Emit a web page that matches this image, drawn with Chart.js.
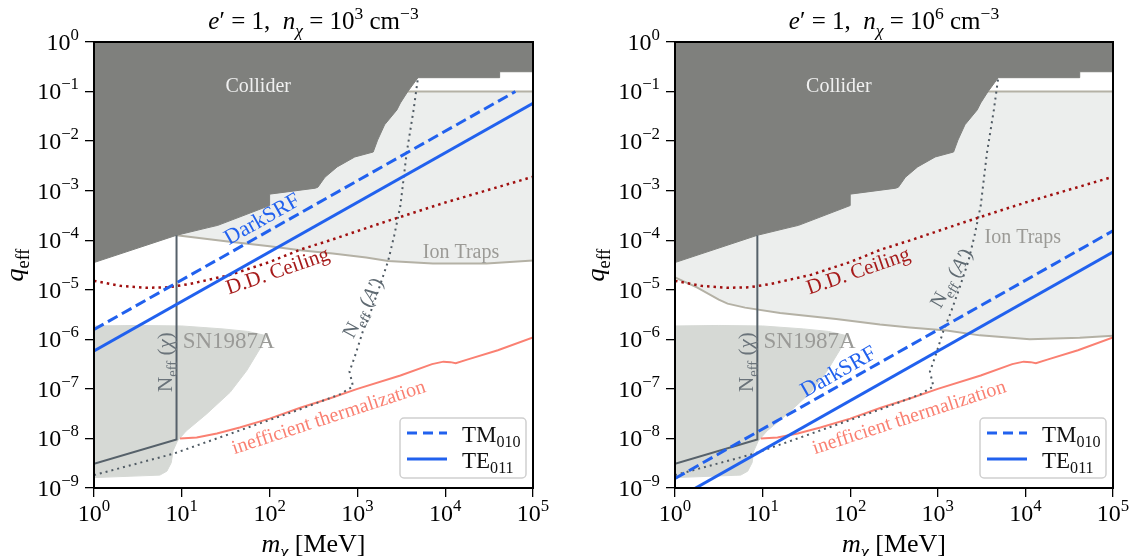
<!DOCTYPE html>
<html>
<head>
<meta charset="utf-8">
<script src="https://cdn.jsdelivr.net/npm/chart.js@4.4.0/dist/chart.umd.min.js"></script>
<style>
body { margin: 0; background: #fff; }
#wrap { position: relative; width: 1129px; height: 556px; }
canvas { position: absolute; top: 0; }
</style>
</head>
<body>
<div id="wrap">
  <canvas id="left" width="565" height="556" style="left:0"></canvas>
  <canvas id="right" width="564" height="556" style="left:565px"></canvas>
</div>
<script>
// ---- data (log10 of m_chi [MeV] and log10 of q_eff) ----
const massExponents = [0, 1, 2, 3, 4, 5];
const qExponents = [0, -1, -2, -3, -4, -5, -6, -7, -8, -9];

const colliderLogM = [0, 0.94, 1.29, 1.41, 2.0, 2.0, 2.52, 2.55, 2.63, 2.77, 2.97, 3.18, 3.23, 3.31, 3.45, 3.49, 3.57, 3.69, 4.62, 4.62, 5];
const colliderLogQ = [-4.45, -3.90, -3.75, -3.70, -3.30, -3.07, -2.95, -2.93, -2.73, -2.52, -2.32, -2.22, -1.98, -1.67, -1.37, -1.23, -1.01, -0.72, -0.72, -0.60, -0.60];

const ionLeftLogM = [0.94, 1.5, 2.0, 2.35, 2.72, 3.1, 3.35, 3.86, 4.47, 5];
const ionLeftLogQ = [-3.90, -4.02, -4.12, -4.20, -4.27, -4.35, -4.42, -4.47, -4.47, -4.41];
const ionRightLogM = [0, 0.25, 0.5, 0.6, 0.8, 1.2, 1.84, 2.34, 2.68, 3.10, 3.48, 4.05, 4.62, 5];
const ionRightLogQ = [-4.75, -4.95, -5.2, -5.28, -5.36, -5.47, -5.59, -5.70, -5.76, -5.82, -5.92, -6.0, -5.97, -5.93];
const ionTopLogM = [0, 5];
const ionTopLogQ = [-1, -1];

const snLogM = [0, 0.5, 1.0, 1.47, 1.75, 1.97, 1.89, 1.74, 1.55, 1.28, 1.05, 0.95, 0.90, 0.88, 0.83, 0.75, 0];
const snLogQ = [-5.73, -5.72, -5.73, -5.79, -5.84, -5.93, -6.19, -6.63, -7.07, -7.51, -7.85, -8.05, -8.25, -8.49, -8.66, -8.74, -8.79];

const ddLogM = [0, 0.3, 0.6, 0.85, 1.1, 1.55, 2.0, 2.35, 2.69, 3.33, 4.0, 5];
const ddLogQ = [-4.82, -4.92, -4.96, -4.95, -4.88, -4.70, -4.44, -4.19, -4.0, -3.62, -3.24, -2.72];

const neffALogM = [0, 0.9, 2.35, 2.8, 2.95, 2.91, 2.97, 3.06, 3.15, 3.25, 3.35, 3.42, 3.49, 3.56, 3.64, 3.69];
const neffALogQ = [-8.74, -8.31, -7.41, -7.11, -6.95, -6.65, -6.35, -5.85, -5.45, -4.95, -4.42, -3.9, -3.3, -2.25, -1.37, -0.72];

const neffChiLogM = [0, 0.94, 0.94];
const neffChiLogQ = [-8.51, -8.02, -3.90];

const thermLogM = [0.98, 1.17, 1.4, 1.66, 2.0, 2.35, 2.69, 3.0, 3.49, 3.85, 3.98, 4.06, 4.12, 4.25, 4.6, 5];
const thermLogQ = [-8.0, -7.98, -7.9, -7.78, -7.6, -7.38, -7.19, -7.0, -6.73, -6.50, -6.45, -6.46, -6.48, -6.41, -6.22, -5.96];

// DarkSRF reach, n = 1e3 and 1e6 cm^-3 (mass in MeV, q_eff)
const tmLeftMass = [1, 6.3e4];
const tmLeftQ = [1.58e-6, 0.1];
const teLeftMass = [1, 1e5];
const teLeftQ = [5.8e-7, 5.8e-2];
const tmRightMass = [1, 1e5];
const tmRightQ = [1.55e-9, 1.55e-4];
const teRightMass = [1, 1e5];
const teRightQ = [5.8e-10, 5.8e-5];

// ---- drawing helpers ----
const FONT = '"Liberation Serif", "DejaVu Serif", serif';
const BLUE = '#2161ee';

function pts(lm, lq) {
  return lm.map((v, i) => ({x: Math.pow(10, v), y: Math.pow(10, lq[i])}));
}
function raw(m, q) {
  return m.map((v, i) => ({x: v, y: q[i]}));
}
function sup(k) {
  return k < 0 ? '\u2212' + (-k) : String(k);
}

// parts: [text, kind]  kind: '' | 'i' | 'sub' | 'sup' | 'isub'
function drawRich(ctx, parts, x, y, size, color, align, angle) {
  ctx.save();
  ctx.translate(x, y);
  ctx.rotate((angle || 0) * Math.PI / 180);
  ctx.fillStyle = color;
  ctx.textBaseline = 'alphabetic';
  ctx.textAlign = 'left';
  const items = parts.map(p => {
    const k = p[1] || '';
    const isSub = k.indexOf('sub') >= 0, isSup = k.indexOf('sup') >= 0;
    const fs = (isSub || isSup) ? size * 0.7 : size;
    const font = (k[0] === 'i' ? 'italic ' : '') + fs.toFixed(1) + 'px ' + FONT;
    ctx.font = font;
    const dy = isSub ? size * 0.25 : (isSup ? -size * 0.42 : 0);
    return {t: p[0], font: font, dy: dy, w: ctx.measureText(p[0]).width};
  });
  const total = items.reduce((s, it) => s + it.w, 0);
  let cx = align === 'right' ? -total : (align === 'left' ? 0 : -total / 2);
  const base = size * 0.33;
  items.forEach(it => {
    ctx.font = it.font;
    ctx.fillText(it.t, cx, base + it.dy);
    cx += it.w;
  });
  ctx.restore();
}

const decorations = {
  id: 'decorations',
  afterDatasetsDraw(chart) {
    const ctx = chart.ctx, ca = chart.chartArea;
    const xs = chart.scales.x, ys = chart.scales.y;
    const cfg = chart.options.plugins.decorations;
    const at = (lm, lq) => [xs.getPixelForValue(Math.pow(10, lm)), ys.getPixelForValue(Math.pow(10, lq))];

    ctx.save();
    ctx.beginPath();
    ctx.rect(ca.left, ca.top, ca.width, ca.height);
    ctx.clip();
    cfg.labels.forEach(l => {
      const p = at(l.pos[0], l.pos[1]);
      drawRich(ctx, l.parts, p[0], p[1], l.size, l.color, l.align || 'center', l.angle || 0);
    });
    ctx.restore();

    // legend
    const lw = 126, lh = 60;
    const lx = ca.right - 7 - lw, ly = ca.bottom - 10 - lh;
    ctx.save();
    ctx.beginPath();
    ctx.roundRect(lx, ly, lw, lh, 4);
    ctx.fillStyle = 'rgba(255,255,255,0.85)';
    ctx.fill();
    ctx.strokeStyle = '#cfcfcf';
    ctx.lineWidth = 1.5;
    ctx.stroke();
    ctx.strokeStyle = BLUE;
    ctx.lineWidth = 3;
    ctx.setLineDash([10, 6]);
    ctx.beginPath(); ctx.moveTo(lx + 7, ly + 15); ctx.lineTo(lx + 47, ly + 15); ctx.stroke();
    ctx.setLineDash([]);
    ctx.beginPath(); ctx.moveTo(lx + 7, ly + 41); ctx.lineTo(lx + 47, ly + 41); ctx.stroke();
    ctx.restore();
    drawRich(ctx, [['TM'], ['010', 'sub']], lx + 62, ly + 16, 23, '#111', 'left');
    drawRich(ctx, [['TE'], ['011', 'sub']], lx + 62, ly + 42, 23, '#111', 'left');

    // frame
    ctx.save();
    ctx.strokeStyle = '#000';
    ctx.lineWidth = 2;
    ctx.strokeRect(ca.left, ca.top, ca.width, ca.height);
    ctx.restore();
  },
  afterDraw(chart) {
    const ctx = chart.ctx, ca = chart.chartArea;
    const xs = chart.scales.x, ys = chart.scales.y;
    const cfg = chart.options.plugins.decorations;
    qExponents.forEach(k => {
      drawRich(ctx, [['10'], [sup(k), 'sup']], ca.left - 15, ys.getPixelForValue(Math.pow(10, k)), 24, '#000', 'right');
    });
    massExponents.forEach(k => {
      drawRich(ctx, [['10'], [sup(k), 'sup']], xs.getPixelForValue(Math.pow(10, k)), ca.bottom + 25, 24, '#000', 'center');
    });
    const cx = (ca.left + ca.right) / 2;
    drawRich(ctx, [['e', 'i'], ['\u2032'], [' = 1,  '], ['n', 'i'], ['\u03c7', 'isub'], [' = 10'], [String(cfg.nExp), 'sup'], [' cm'], ['\u22123', 'sup']], cx, 21, 25, '#000', 'center');
    drawRich(ctx, [['m', 'i'], ['\u03c7', 'isub'], [' [MeV]']], cx, 543, 26, '#000', 'center');
    drawRich(ctx, [['q', 'i'], ['eff', 'sub']], ca.left - 80, (ca.top + ca.bottom) / 2, 26, '#000', 'center', -90);
  }
};

function commonLabels() {
  return [
    {parts: [['Collider']], pos: [1.87, -0.885], size: 20, color: '#f0f0f0'},
    {parts: [['D.D. Ceiling']], pos: [2.09, -4.61], size: 21, color: '#a61b1b', angle: -19},
    {parts: [['SN1987A']], pos: [1.01, -6.03], size: 23, color: '#9a9a97', align: 'left'},
    {parts: [['N'], ['eff', 'sub'], [' ('], ['\u03c7', 'i'], [')']], pos: [0.806, -6.46], size: 21, color: '#6a737a', angle: -90},
    {parts: [['inefficient thermalization']], pos: [2.67, -7.56], size: 20, color: '#fa8072', angle: -18}
  ];
}

function makeChart(id, panel) {
  const datasets = [
    {data: pts(panel.ionLogM, panel.ionLogQ), borderColor: '#b4b1a5', borderWidth: 2, backgroundColor: '#eceeed', fill: {value: 0.1}, order: 10},
    {data: pts(ionTopLogM, ionTopLogQ), borderColor: '#b4b1a5', borderWidth: 2, fill: false, order: 9},
    {data: pts(snLogM, snLogQ), borderColor: '#d6d9d5', borderWidth: 1, backgroundColor: '#d6d9d5', fill: 'shape', order: 9},
    {data: pts(colliderLogM, colliderLogQ), borderColor: '#7f807d', borderWidth: 1, backgroundColor: '#7f807d', fill: 'end', order: 8},
    {data: pts(ddLogM, ddLogQ), borderColor: '#a00f0f', borderWidth: 2.5, borderDash: [2.5, 4], fill: false, order: 5},
    {data: pts(neffALogM, neffALogQ), borderColor: '#505b64', borderWidth: 2, borderDash: [2, 4], fill: false, order: 5},
    {data: pts(thermLogM, thermLogQ), borderColor: '#fa8072', borderWidth: 2, fill: false, order: 5},
    {data: pts(neffChiLogM, neffChiLogQ), borderColor: '#56616a', borderWidth: 2, fill: false, order: 5},
    {data: raw(panel.tmMass, panel.tmQ), borderColor: BLUE, borderWidth: 3, borderDash: [11, 5], fill: false, order: 1},
    {data: raw(panel.teMass, panel.teQ), borderColor: BLUE, borderWidth: 3, fill: false, order: 1}
  ];
  const grid = {display: true, drawOnChartArea: false, drawTicks: true, tickLength: 9, color: '#000', lineWidth: 1.3};
  return new Chart(document.getElementById(id), {
    type: 'line',
    data: {datasets: datasets},
    options: {
      responsive: false,
      animation: false,
      devicePixelRatio: 1,
      parsing: {xAxisKey: 'x', yAxisKey: 'y'},
      elements: {point: {radius: 0, hoverRadius: 0}, line: {tension: 0}},
      layout: {padding: {top: 42, left: 0, bottom: 0, right: panel.padRight}},
      scales: {
        x: {
          type: 'logarithmic', min: 1, max: 1e5,
          grid: grid, border: {display: false},
          ticks: {display: false, autoSkip: false},
          afterBuildTicks: s => { s.ticks = massExponents.map(k => ({value: Math.pow(10, k)})); },
          afterFit: s => { s.height = 68; }
        },
        y: {
          type: 'logarithmic', min: 1e-9, max: 1,
          grid: grid, border: {display: false},
          ticks: {display: false, autoSkip: false},
          afterBuildTicks: s => { s.ticks = qExponents.map(k => ({value: Math.pow(10, k)})); },
          afterFit: s => { s.width = panel.yWidth; }
        }
      },
      plugins: {
        legend: {display: false},
        tooltip: {enabled: false},
        decorations: {nExp: panel.nExp, labels: panel.labels}
      }
    },
    plugins: [decorations]
  });
}

makeChart('left', {
  nExp: 3, yWidth: 94, padRight: 32,
  ionLogM: ionLeftLogM, ionLogQ: ionLeftLogQ,
  tmMass: tmLeftMass, tmQ: tmLeftQ, teMass: teLeftMass, teQ: teLeftQ,
  labels: commonLabels().concat([
    {parts: [['DarkSRF']], pos: [1.91, -3.56], size: 22, color: BLUE, angle: -29.4},
    {parts: [['Ion Traps']], pos: [4.18, -4.22], size: 20, color: '#9b9a96'},
    {parts: [['N'], ['eff', 'sub'], [' ('], ['A\u2032', 'i'], [')']], pos: [3.06, -5.36], size: 20, color: '#5f6a72', angle: -62}
  ])
});

makeChart('right', {
  nExp: 6, yWidth: 110, padRight: 16,
  ionLogM: ionRightLogM, ionLogQ: ionRightLogQ,
  tmMass: tmRightMass, tmQ: tmRightQ, teMass: teRightMass, teQ: teRightQ,
  labels: commonLabels().concat([
    {parts: [['DarkSRF']], pos: [1.86, -6.64], size: 22, color: BLUE, angle: -29.4},
    {parts: [['Ion Traps']], pos: [3.97, -3.92], size: 20, color: '#9b9a96'},
    {parts: [['N'], ['eff', 'sub'], [' ('], ['A\u2032', 'i'], [')']], pos: [3.15, -4.76], size: 20, color: '#5f6a72', angle: -60}
  ])
});
</script>
</body>
</html>
